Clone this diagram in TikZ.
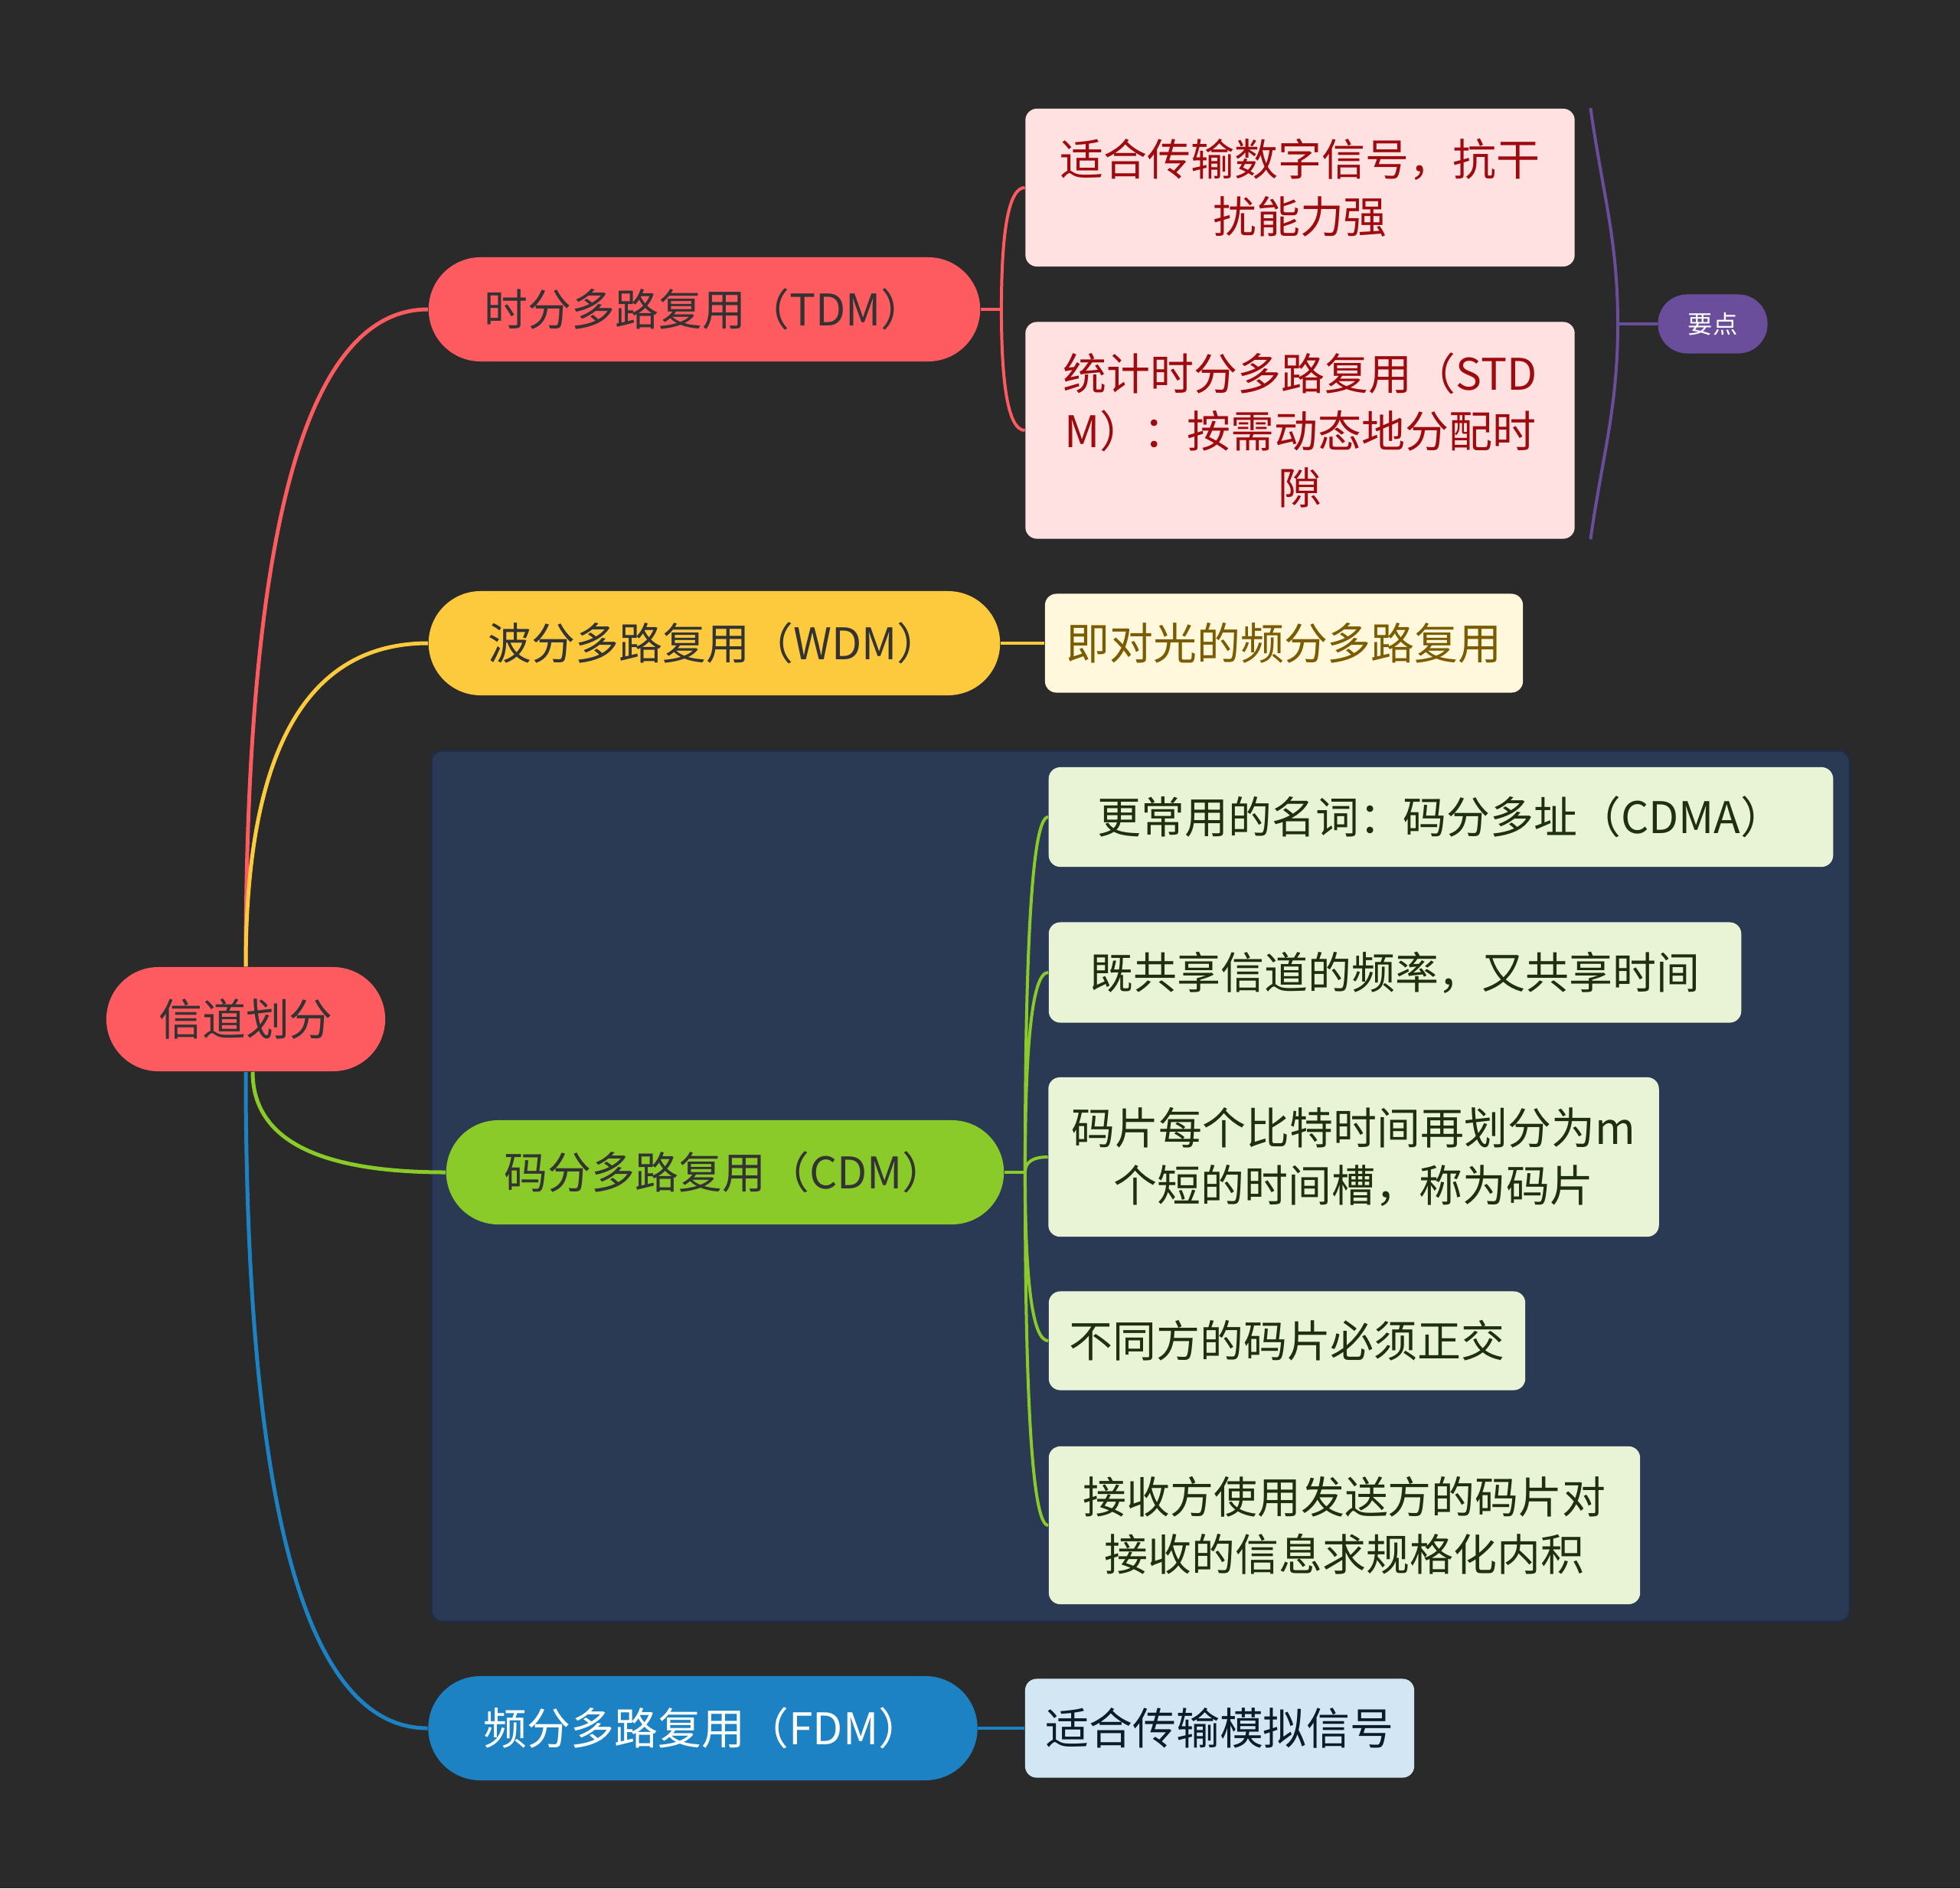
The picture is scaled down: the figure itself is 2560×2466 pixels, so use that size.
\documentclass[tikz,border=0pt]{standalone}
\usepackage{fontspec}
\setmainfont{Noto Sans CJK SC}
\usepackage{tikz}
\usetikzlibrary{calc}
\definecolor{MapBg}{HTML}{2A2A2A}
\definecolor{MapRed}{HTML}{FD5B5F}
\definecolor{MapYellow}{HTML}{FECA3D}
\definecolor{MapGreen}{HTML}{8ACB2A}
\definecolor{MapBlue}{HTML}{1C82C4}
\definecolor{MapPurple}{HTML}{6A4E9B}
\definecolor{MapNavy}{HTML}{2A3A55}
\definecolor{MapDark}{HTML}{333333}
\definecolor{PinkFill}{HTML}{FFE1E1}
\definecolor{PinkText}{HTML}{9E0B0F}
\definecolor{CreamFill}{HTML}{FFF8DC}
\definecolor{CreamText}{HTML}{7C5C00}
\definecolor{LimeFill}{HTML}{E9F4D6}
\definecolor{LimeText}{HTML}{1F300E}
\definecolor{SkyFill}{HTML}{D3E6F3}
\definecolor{SkyText}{HTML}{0C1B29}

\begin{document}
\begin{tikzpicture}[x=0.01cm,y=-0.01cm,
    txt/.style={font=\fontsize{16.2}{21.3}\selectfont,align=center,inner sep=0pt},
    pill/.style={txt,rounded corners=0.68cm,minimum height=1.36cm},
    leaf/.style={txt,rounded corners=0.15cm},
    link/.style={line width=0.05cm},
    twig/.style={line width=0.04cm}]
  \fill[MapBg] (0,0) rectangle (2560,2466);
  \useasboundingbox (0,0) rectangle (2560,2466);
  % panel behind the code division branch
  \filldraw[fill=MapNavy,draw=MapNavy!75!black,line width=0.03cm,rounded corners=0.15cm]
    (563,980) rectangle (2416,2118);

  % main branches
  \node[pill,fill=MapRed,text=MapDark,minimum width=3.64cm] (root) at (321,1331) {信道划分};
  \node[pill,fill=MapRed,text=MapDark,minimum width=7.2cm] (tdm) at (920,404) {时分多路复用（TDM）};
  \node[pill,fill=MapYellow,text=MapDark,minimum width=7.46cm] (wdm) at (933,840) {波分多路复用（WDM）};
  \node[pill,fill=MapGreen,text=MapDark,minimum width=7.28cm] (cdm) at (947,1531) {码分多路复用（CDM）};
  \node[pill,fill=MapBlue,text=white,minimum width=7.17cm] (fdm) at (918,2257) {频分多路复用（FDM）};

  % leaves
  \node[leaf,fill=PinkFill,text=PinkText,minimum width=7.17cm,minimum height=2.06cm] (tdmA) at (1698,245)
    {适合传输数字信号，抗干\\扰能力强};
  \node[leaf,fill=PinkFill,text=PinkText,minimum width=7.17cm,minimum height=2.83cm] (tdmB) at (1698,562)
    {统计时分多路复用（STD\\M）：按需动态地分配时\\隙};
  \node[pill,fill=MapPurple,text=white,font=\fontsize{9.2}{11}\selectfont,
    rounded corners=0.38cm,minimum width=1.43cm,minimum height=0.77cm] (yaodian) at (2237,423) {要点};
  \node[leaf,fill=CreamFill,text=CreamText,minimum width=6.24cm,minimum height=1.29cm] (wdmA) at (1677,840)
    {即对光的频分多路复用};
  \node[leaf,fill=LimeFill,text=LimeText,minimum width=10.24cm,minimum height=1.3cm] (cdmA) at (1882,1067)
    {更常用的名词：码分多址（CDMA）};
  \node[leaf,fill=LimeFill,text=LimeText,minimum width=9.04cm,minimum height=1.31cm] (cdmB) at (1822,1270)
    {既共享信道的频率，又共享时间};
  \node[leaf,fill=LimeFill,text=LimeText,minimum width=7.97cm,minimum height=2.08cm] (cdmC) at (1768,1511)
    {码片每个比特时间再划分为m\\个短的时间槽，称为码片};
  \node[leaf,fill=LimeFill,text=LimeText,minimum width=6.22cm,minimum height=1.29cm] (cdmD) at (1681,1751)
    {不同方的码片必须正交};
  \node[leaf,fill=LimeFill,text=LimeText,minimum width=7.72cm,minimum height=2.06cm] (cdmE) at (1756,1992)
    {接收方使用发送方的码片对\\接收的信息求规格化内积};
  \node[leaf,fill=SkyFill,text=SkyText,minimum width=5.08cm,minimum height=1.29cm] (fdmA) at (1593,2257)
    {适合传输模拟信号};

  % root to branches
  \coordinate (rootUp) at (root.north);
  \coordinate (rootDn) at (root.south);
  \coordinate (rootDg) at ([xshift=0.09cm]root.south);
  \foreach \s/\t/\c in {rootUp/tdm/MapRed,rootUp/wdm/MapYellow,rootDg/cdm/MapGreen,rootDn/fdm/MapBlue}{
    \draw[link,\c] (\s) .. controls ($(\s)!0.667!(\s |- \t.west)$)
      and ($(\t.west)!0.667!(\s |- \t.west)$) .. (\t.west);}

  % branches to leaves
  \coordinate (tdmJ) at ([xshift=0.27cm]tdm.east);
  \draw[twig,MapRed] (tdm.east) -- (tdmJ);
  \foreach \t in {tdmA,tdmB}{
    \draw[twig,MapRed] (tdmJ) .. controls ($(tdmJ)!0.667!(tdmJ |- \t.west)$)
      and ($(\t.west)!0.667!(tdmJ |- \t.west)$) .. (\t.west);}
  \coordinate (cdmJ) at ([xshift=0.27cm]cdm.east);
  \draw[twig,MapGreen] (cdm.east) -- (cdmJ);
  \foreach \t in {cdmA,cdmB,cdmC,cdmD,cdmE}{
    \draw[twig,MapGreen] (cdmJ) .. controls ($(cdmJ)!0.667!(cdmJ |- \t.west)$)
      and ($(\t.west)!0.667!(cdmJ |- \t.west)$) .. (\t.west);}
  \draw[twig,MapYellow] (wdm.east) -- (wdmA.west);
  \draw[twig,MapBlue] (fdm.east) -- (fdmA.west);

  % summary bracket
  \coordinate (braceTop) at ([xshift=0.2cm]tdmA.north east);
  \coordinate (braceBot) at ([xshift=0.2cm]tdmB.south east);
  \coordinate (braceMid) at (2113,423);
  \draw[twig,MapPurple] (braceTop) to[out=-82,in=90] (braceMid) to[out=-90,in=82] (braceBot);
  \draw[twig,MapPurple] (braceMid) -- (yaodian.west);
\end{tikzpicture}
\end{document}
